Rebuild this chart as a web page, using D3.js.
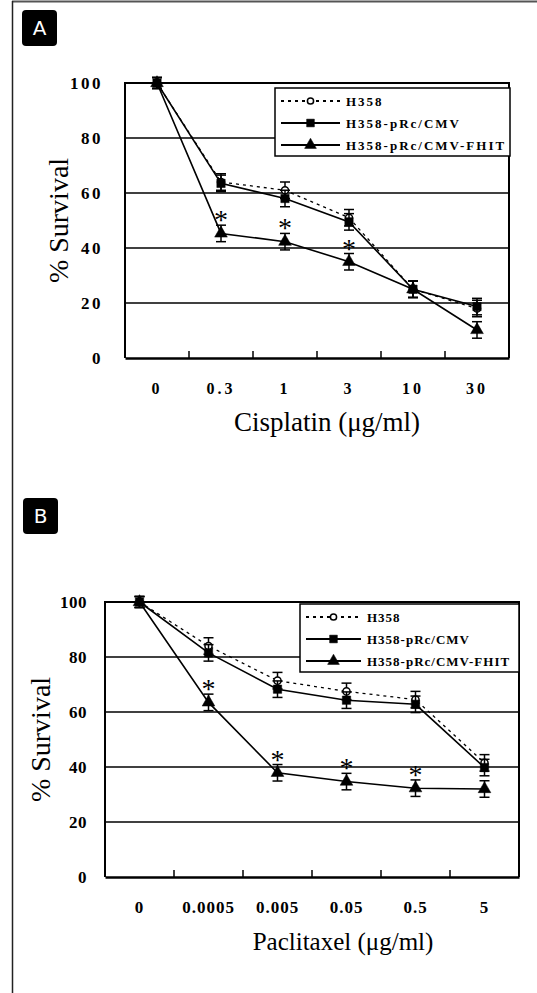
<!DOCTYPE html>
<html>
<head>
<meta charset="utf-8">
<script src="https://cdn.jsdelivr.net/npm/d3@7"></script>
<style>
body { margin: 0; background: #fff; }
svg { display: block; }
</style>
</head>
<body>
<svg id="chart" width="537" height="993"></svg>
<script>
// tick labels
var yTicks = [0, 20, 40, 60, 80, 100];
var seriesNames = ["H358", "H358-pRc/CMV", "H358-pRc/CMV-FHIT"];

// panel A: cisplatin
var cisDoses = ["0", "0.3", "1", "3", "10", "30"];
var cisH358 = [100, 64, 61, 51, 25, 18];
var cisCMV = [100, 63.5, 58, 49.5, 25, 18.7];
var cisFHIT = [100, 45.3, 42.3, 35, 25, 10.2];
var cisErr = [2, 3, 3, 3, 3, 3];
var cisStar = [false, true, true, true, false, false];

// panel B: paclitaxel
var pacDoses = ["0", "0.0005", "0.005", "0.05", "0.5", "5"];
var pacH358 = [100, 84, 71.4, 67.5, 64.5, 41.5];
var pacCMV = [100, 81.5, 68.3, 64.3, 62.8, 39.8];
var pacFHIT = [100, 63.5, 37.9, 34.7, 32.3, 32];
var pacErr = [2, 3, 3, 3, 3, 3];
var pacStar = [false, true, true, true, true, false];

var svg = d3.select("#chart");
var serif = "'Liberation Serif', 'DejaVu Serif', serif";

// outer frame
svg.append("line").attr("x1", 12).attr("x2", 537).attr("y1", 1.5).attr("y2", 1.5)
  .attr("stroke", "#555").attr("stroke-width", 2);
svg.append("line").attr("x1", 12.5).attr("x2", 12.5).attr("y1", 1).attr("y2", 993)
  .attr("stroke", "#222").attr("stroke-width", 1.5);

function panelLabel(x, y, txt) {
  svg.append("rect").attr("x", x).attr("y", y).attr("width", 35).attr("height", 36)
    .attr("rx", 4).attr("fill", "#000");
  svg.append("text").attr("x", x + 17.5).attr("y", y + 25).attr("text-anchor", "middle")
    .attr("font-family", "'DejaVu Sans', sans-serif").attr("font-size", 20)
    .attr("fill", "#fff").text(txt);
}

function shapeOf(s) {
  return s === "circle" ? d3.symbolCircle : s === "square" ? d3.symbolSquare : d3.symbolTriangle;
}

function drawPanel(o) {
  var x = d3.scaleBand().domain(o.doses).range([o.left, o.right]);
  var y = d3.scaleLinear().domain([0, 100]).range([o.bottom, o.top]);
  var g = svg.append("g");

  // grid lines
  g.selectAll(".grid").data([20, 40, 60, 80]).enter().append("line")
    .attr("x1", o.left).attr("x2", o.right)
    .attr("y1", function(d) { return y(d); }).attr("y2", function(d) { return y(d); })
    .attr("stroke", "#000").attr("stroke-width", 1.5);

  // box
  g.append("path")
    .attr("d", "M" + o.left + "," + o.bottom + "V" + o.top + "H" + o.right + "V" + o.bottom)
    .attr("fill", "none").attr("stroke", "#000").attr("stroke-width", 2);

  // x axis with inward ticks
  var xa = g.append("g").attr("transform", "translate(0," + o.bottom + ")")
    .call(d3.axisBottom(x).tickSize(0).tickFormat(""));
  xa.select(".domain").attr("stroke-width", 2.5);
  g.selectAll(".xt").data(o.doses.slice(1)).enter().append("line")
    .attr("x1", function(d) { return x(d); }).attr("x2", function(d) { return x(d); })
    .attr("y1", o.bottom).attr("y2", o.bottom - 7)
    .attr("stroke", "#000").attr("stroke-width", 1.5);
  g.selectAll(".xl").data(o.doses).enter().append("text")
    .attr("x", function(d) { return x(d) + x.bandwidth() / 2; })
    .attr("y", o.bottom + o.xLabOff)
    .attr("text-anchor", "middle").attr("font-family", serif)
    .attr("font-size", o.xLabSize).attr("font-weight", "bold")
    .attr("letter-spacing", o.spacing).text(function(d) { return d; });

  // y axis labels
  var ya = g.append("g").attr("transform", "translate(" + o.left + ",0)")
    .call(d3.axisLeft(y).tickValues(yTicks).tickSize(0).tickPadding(o.yPad));
  ya.select(".domain").remove();
  ya.selectAll("text").attr("font-family", serif).attr("font-size", 17)
    .attr("font-weight", "bold").attr("letter-spacing", o.ySpacing).attr("fill", "#000");

  // titles
  g.append("text")
    .attr("transform", "translate(" + o.yTitleX + "," + ((o.top + o.bottom) / 2) + ") rotate(-90)")
    .attr("text-anchor", "middle").attr("font-family", serif).attr("font-size", 28)
    .text("% Survival");
  g.append("text").attr("x", o.xTitleX).attr("y", o.xTitleY)
    .attr("text-anchor", "middle").attr("font-family", serif).attr("font-size", o.xTitleSize)
    .text(o.xTitle);

  var cx = function(d, i) { return x(o.doses[i]) + x.bandwidth() / 2; };
  var series = [
    { vals: o.h358, dash: "3,4", shape: "circle" },
    { vals: o.cmv, dash: null, shape: "square" },
    { vals: o.fhit, dash: null, shape: "triangle" }
  ];

  series.forEach(function(s) {
    var line = d3.line().x(cx).y(function(d) { return y(d); });
    g.append("path").datum(s.vals).attr("d", line).attr("fill", "none")
      .attr("stroke", "#000").attr("stroke-width", s.dash ? 1.3 : 1.6)
      .attr("stroke-dasharray", s.dash);
    // error bars
    s.vals.forEach(function(v, i) {
      var e = o.err[i], px = cx(v, i);
      g.append("line").attr("x1", px).attr("x2", px)
        .attr("y1", y(v - e)).attr("y2", y(v + e)).attr("stroke", "#000").attr("stroke-width", 1.5);
      [v - e, v + e].forEach(function(w) {
        g.append("line").attr("x1", px - 5).attr("x2", px + 5)
          .attr("y1", y(w)).attr("y2", y(w)).attr("stroke", "#000").attr("stroke-width", 1.5);
      });
    });
    // markers
    g.selectAll(null).data(s.vals).enter().append("path")
      .attr("transform", function(d, i) { return "translate(" + cx(d, i) + "," + y(d) + ")"; })
      .attr("d", d3.symbol().type(shapeOf(s.shape)).size(s.shape === "circle" ? 40 : 70))
      .attr("fill", s.shape === "circle" ? "#fff" : "#000")
      .attr("stroke", "#000").attr("stroke-width", s.shape === "circle" ? 1.5 : 0.5);
  });

  // significance asterisks
  o.fhit.forEach(function(v, i) {
    if (!o.star[i]) return;
    g.append("text").attr("x", cx(v, i)).attr("y", y(v + o.err[i]) + 4)
      .attr("text-anchor", "middle").attr("font-family", serif).attr("font-size", 28)
      .text("*");
  });

  // legend
  var lg = g.append("g");
  lg.append("rect").attr("x", o.lg.x).attr("y", o.lg.y).attr("width", o.lg.w).attr("height", 68)
    .attr("fill", "#fff").attr("stroke", "#000").attr("stroke-width", 1.5);
  seriesNames.forEach(function(name, i) {
    var ly = o.lg.y + 13 + i * 22;
    var s = series[i];
    lg.append("line").attr("x1", o.lg.x + 6).attr("x2", o.lg.x + 6 + o.lg.lineW)
      .attr("y1", ly).attr("y2", ly).attr("stroke", "#000")
      .attr("stroke-width", 2).attr("stroke-dasharray", s.dash);
    lg.append("path").attr("transform", "translate(" + (o.lg.x + 6 + o.lg.lineW / 2) + "," + ly + ")")
      .attr("d", d3.symbol().type(shapeOf(s.shape)).size(s.shape === "circle" ? 30 : 60))
      .attr("fill", s.shape === "circle" ? "#fff" : "#000").attr("stroke", "#000")
      .attr("stroke-width", s.shape === "circle" ? 1.5 : 0.5);
    lg.append("text").attr("x", o.lg.x + 12 + o.lg.lineW).attr("y", ly + 5)
      .attr("font-family", serif).attr("font-size", 13).attr("font-weight", "bold")
      .attr("letter-spacing", o.lg.spacing).text(name);
  });
}

panelLabel(22, 10, "A");
drawPanel({
  doses: cisDoses, h358: cisH358, cmv: cisCMV, fhit: cisFHIT, err: cisErr, star: cisStar,
  left: 125, right: 509, top: 83, bottom: 358, xLabOff: 36, xLabSize: 16, yPad: 22,
  spacing: 3, ySpacing: 2.5,
  yTitleX: 68, xTitle: "Cisplatin (\u03bcg/ml)", xTitleX: 327, xTitleY: 431, xTitleSize: 27,
  lg: { x: 275, y: 88, w: 235, lineW: 59, spacing: 2 }
});

panelLabel(23, 498, "B");
drawPanel({
  doses: pacDoses, h358: pacH358, cmv: pacCMV, fhit: pacFHIT, err: pacErr, star: pacStar,
  left: 105, right: 519, top: 602, bottom: 877, xLabOff: 36, xLabSize: 17, yPad: 18,
  spacing: 1, ySpacing: 0.5,
  yTitleX: 50, xTitle: "Paclitaxel (\u03bcg/ml)", xTitleX: 343, xTitleY: 950, xTitleSize: 25,
  lg: { x: 300, y: 604, w: 219, lineW: 55, spacing: 1 }
});
</script>
</body>
</html>
